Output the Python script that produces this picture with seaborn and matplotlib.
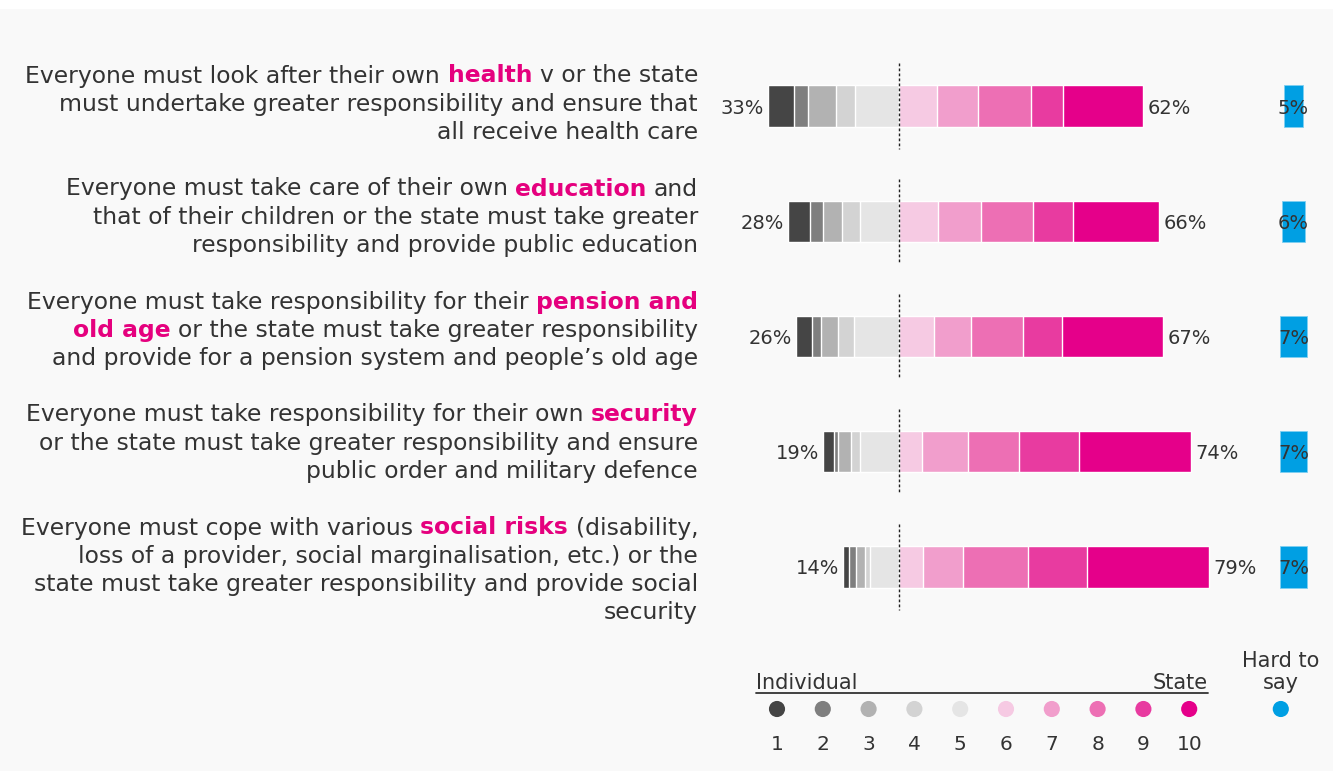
import matplotlib
matplotlib.use("Agg")
import matplotlib.pyplot as plt
import matplotlib.transforms as mtransforms
from matplotlib.patches import Rectangle
import numpy as np
import pandas as pd
import seaborn as sns

# ---------------- data ----------------
categories = ["Health", "Education", "Pension and old age", "Security", "Social risks"]
s1 = [6.5, 5.5, 4.1, 2.6, 1.5]
s2 = [3.6, 3.3, 2.2, 1.0, 1.7]
s3 = [7.0, 5.0, 4.5, 3.3, 2.2]
s4 = [4.8, 4.4, 4.0, 2.3, 1.5]
s5 = [11.1, 9.8, 11.2, 9.8, 7.1]
s6 = [9.8, 10.0, 8.9, 6.0, 6.3]
s7 = [10.3, 10.9, 9.4, 11.7, 10.0]
s8 = [13.4, 13.2, 13.1, 12.9, 16.5]
s9 = [8.1, 10.0, 9.9, 15.0, 14.9]
s10 = [20.4, 21.9, 25.7, 28.4, 31.0]
individual_total = [33, 28, 26, 19, 14]
state_total = [62, 66, 67, 74, 79]
hard_to_say = [5, 6, 7, 7, 7]
scale_labels = ["1", "2", "3", "4", "5", "6", "7", "8", "9", "10"]

questions = [
    [[("Everyone must look after their own", False), ("health", True), ("v or the state", False)],
     [("must undertake greater responsibility and ensure that", False)],
     [("all receive health care", False)]],
    [[("Everyone must take care of their own", False), ("education", True), ("and", False)],
     [("that of their children or the state must take greater", False)],
     [("responsibility and provide public education", False)]],
    [[("Everyone must take responsibility for their", False), ("pension and", True)],
     [("old age", True), ("or the state must take greater responsibility", False)],
     [("and provide for a pension system and people\u2019s old age", False)]],
    [[("Everyone must take responsibility for their own", False), ("security", True)],
     [("or the state must take greater responsibility and ensure", False)],
     [("public order and military defence", False)]],
    [[("Everyone must cope with various", False), ("social risks", True), ("(disability,", False)],
     [("loss of a provider, social marginalisation, etc.) or the", False)],
     [("state must take greater responsibility and provide social", False)],
     [("security", False)]],
]

colors = ["#454545", "#7f7f7f", "#b2b2b2", "#d3d3d3", "#e5e5e5",
          "#f6cae3", "#f19ecc", "#ed6fb4", "#e83ba0", "#e5008a"]
HARD_COLOR = "#009fe3"
MAGENTA = "#e5007e"
DARK = "#333333"
BG = "#f9f9f9"

# ---------------- figure ----------------
sns.set_theme(style="white")
plt.rcParams["font.family"] = ["DejaVu Sans"]

W, H = 1333, 771
fig = plt.figure(figsize=(W / 100, H / 100), dpi=100, facecolor=BG)
pix = mtransforms.Affine2D().scale(1 / W, -1 / H).translate(0, 1) + fig.transFigure
fig.patches.append(Rectangle((0, 0), W, 9, transform=pix, facecolor="white",
                             edgecolor="none", zorder=0))

PX = 3.95          # pixels per percentage point
X0 = 898.5         # pixel of the zero line
XL, XR = -50, 110
Y0, DY = 106, 115.25
ax = fig.add_axes([(X0 + XL * PX) / W, 0, (XR - XL) * PX / W, 1])
ax.set_facecolor("none")

segs = [np.array(s, dtype=float) for s in (s1, s2, s3, s4, s5, s6, s7, s8, s9, s10)]
BAR_H = 0.356

# left side: outermost first
for k in range(5):
    ext = -np.sum(segs[k:5], axis=0)
    df = pd.DataFrame({"cat": categories, "v": ext})
    sns.barplot(data=df, x="v", y="cat", orient="h", color=colors[k], saturation=1,
                width=BAR_H, edgecolor="white", linewidth=1, errorbar=None, ax=ax)
# right side: outermost first
for k in range(9, 4, -1):
    ext = np.sum(segs[5:k + 1], axis=0)
    df = pd.DataFrame({"cat": categories, "v": ext})
    sns.barplot(data=df, x="v", y="cat", orient="h", color=colors[k], saturation=1,
                width=BAR_H, edgecolor="white", linewidth=1, errorbar=None, ax=ax)

ypos = np.arange(len(categories))
hard = np.array(hard_to_say, dtype=float)
ax.barh(ypos, hard, left=100 - hard / 2, height=BAR_H, color=HARD_COLOR,
        edgecolor="#7fcff1", linewidth=0.6)

left_ext = np.sum(segs[0:5], axis=0)
right_ext = np.sum(segs[5:10], axis=0)
for i in range(len(categories)):
    ax.annotate(f"{individual_total[i]}%", xy=(-left_ext[i], i), xytext=(-3, 0),
                textcoords="offset points", ha="right", va="center_baseline",
                fontsize=14, color=DARK)
    ax.annotate(f"{state_total[i]}%", xy=(right_ext[i], i), xytext=(3, 0),
                textcoords="offset points", ha="left", va="center_baseline",
                fontsize=14, color=DARK)
    ax.text(100, i, f"{hard_to_say[i]}%", ha="center", va="center_baseline",
            fontsize=14, color=DARK)

ax.vlines(np.zeros(len(categories)), ypos - 0.37, ypos + 0.37, colors="#222222",
          linestyles=(0, (2, 1.6)), linewidth=1, zorder=5)

ax.set_xlim(XL, XR)
ax.set_ylim((H - Y0) / DY, -Y0 / DY)
ax.axis("off")

# ---------------- question texts ----------------
FS = 16.9
SPACE_PT = 0.318 * FS


def rich_line(pieces, x_right, y_base):
    prev = None
    for txt, bold in reversed(pieces):
        kw = dict(fontsize=FS, color=MAGENTA if bold else DARK,
                  fontweight="bold" if bold else "normal", ha="right")
        if prev is None:
            prev = fig.text(x_right, y_base, txt, transform=pix, va="baseline", **kw)
        else:
            prev = ax.annotate(txt, xy=(0, 0), xycoords=prev, xytext=(-SPACE_PT, 0),
                               textcoords="offset points", va="bottom",
                               annotation_clip=False, **kw)


for i, block in enumerate(questions):
    for j, line in enumerate(block):
        rich_line(line, 698, 82.5 + 113 * i + 28.2 * j)

# ---------------- legend ----------------
LX0, LDX = 777, 45.8
lax = fig.add_axes([(LX0 - LDX) / W, 0, 13 * LDX / W, 131 / H])
lax.set_facecolor("none")
lax.set_xlim(0, 13)
lax.set_ylim(771, 640)
lax.axis("off")

kpos = np.arange(1, 11)
lax.scatter(kpos, np.full(10, 709), s=135, c=colors, edgecolors="none")
lax.scatter([12], [709], s=135, c=[HARD_COLOR], edgecolors="none")
for k, lab in zip(kpos, scale_labels):
    lax.text(k, 744, lab, ha="center", va="center", fontsize=14.5, color=DARK)
x_ind = (756 - LX0) / LDX + 1
x_state = (1208 - LX0) / LDX + 1
lax.plot([x_ind, x_state], [693, 693], color=DARK, linewidth=1.3)
lax.text(x_ind, 689, "Individual", ha="left", va="baseline", fontsize=15, color=DARK)
lax.text(x_state, 689, "State", ha="right", va="baseline", fontsize=15, color=DARK)
lax.text(12, 672, "Hard to\nsay", ha="center", va="center", fontsize=15,
         color=DARK, linespacing=1.15)

fig.savefig("out.png", dpi=100, facecolor=BG)
